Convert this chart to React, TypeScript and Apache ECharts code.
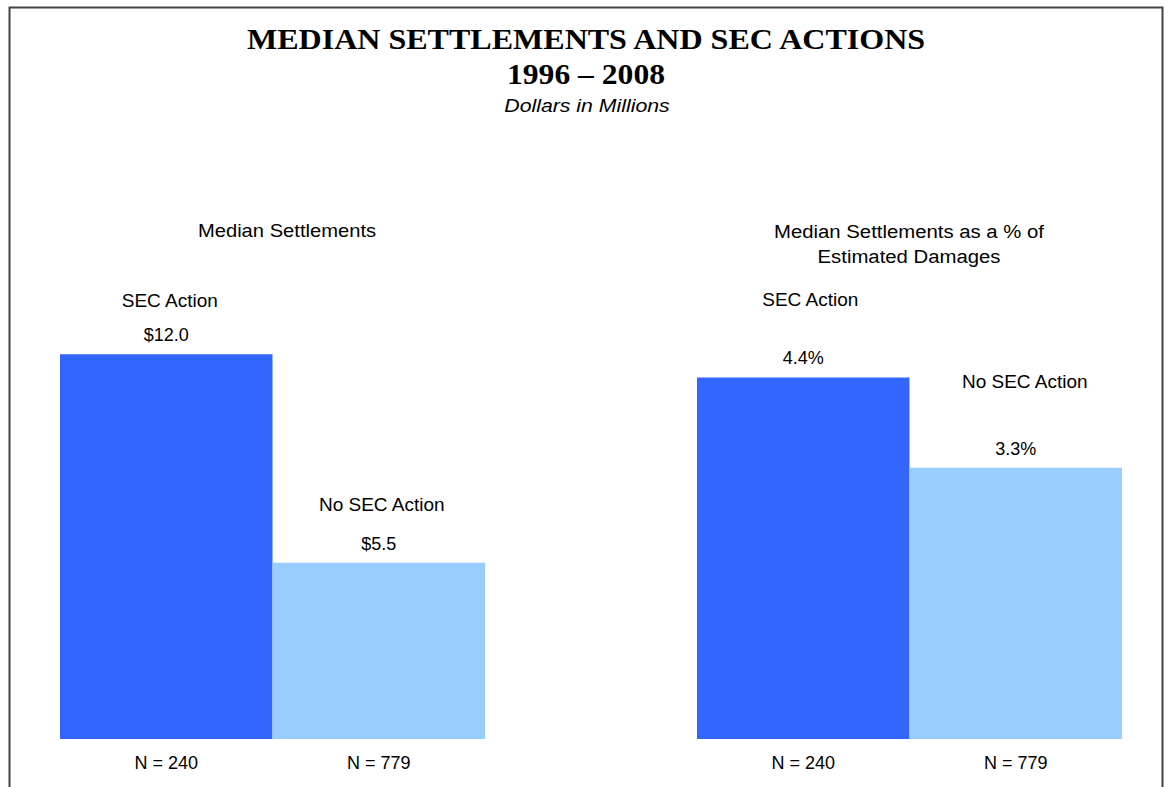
import React, { useEffect, useRef } from "react";
import * as echarts from "echarts";

const categories = ["N = 240", "N = 779"];
const groupNames = ["SEC Action", "No SEC Action"];
const settlementValues = [12.0, 5.5];
const pctDamagesValues = [4.4, 3.3];
const chartTitle = "MEDIAN SETTLEMENTS AND SEC ACTIONS";
const chartYears = "1996 \u2013 2008";
const chartUnits = "Dollars in Millions";
const leftSubtitle = "Median Settlements";
const rightSubtitle = "Median Settlements as a % of\nEstimated Damages";

const barColors = ["#3366FF", "#99CCFF"];
const leftNameLineHeights = [50, 58];
const rightNameLineHeights = [98, 114];
const leftNameShift = [7, 6];
const rightNameShift = [14, 18];
const SANS = "'Liberation Sans', Arial, sans-serif";
const SERIF = "'Liberation Serif', 'Times New Roman', serif";

function buildData(
  values: number[],
  fmt: (v: number) => string,
  nameLH: number[],
  nameShift: number[]
) {
  return values.map((v, i) => ({
    value: v,
    itemStyle: { color: barColors[i] },
    label: {
      show: true,
      position: "top",
      distance: 9,
      formatter: `{n|${groupNames[i]}}\n{v|${fmt(v)}}`,
      rich: {
        n: {
          lineHeight: nameLH[i],
          fontSize: 19,
          fontFamily: SANS,
          color: "#000",
          padding: [0, 0, 0, nameShift[i]],
        },
        v: { lineHeight: 20, fontSize: 18, fontFamily: SANS, color: "#000" },
      },
    },
  }));
}

function centeredText(text: string, x: number, y: number, sx: number, style: any) {
  return {
    type: "text",
    x,
    y,
    scaleX: sx,
    silent: true,
    style: { text, fill: "#000", align: "center", verticalAlign: "middle", ...style },
  };
}

export default function App() {
  const ref = useRef<HTMLDivElement>(null);
  useEffect(() => {
    if (!ref.current) return;
    const chart = echarts.init(ref.current, undefined, { renderer: "svg" });
    const xAxisBase = {
      type: "category",
      data: categories,
      axisLine: { show: false },
      axisTick: { show: false },
      axisLabel: { margin: 15, fontSize: 18, fontFamily: SANS, color: "#000" },
    };
    const yAxisBase = {
      type: "value",
      min: 0,
      show: false,
      splitLine: { show: false },
    };
    chart.setOption({
      animation: false,
      backgroundColor: "#fff",
      graphic: [
        {
          type: "rect",
          shape: { x: 9.5, y: 7.5, width: 1153, height: 800 },
          style: { fill: "none", stroke: "#444", lineWidth: 2 },
          silent: true,
        },
        centeredText(chartTitle, 586, 40, 1.105, {
          fontFamily: SERIF,
          fontWeight: "bold",
          fontSize: 29,
        }),
        centeredText(chartYears, 586, 74, 1.09, {
          fontFamily: SERIF,
          fontWeight: "bold",
          fontSize: 29,
        }),
        centeredText(chartUnits, 587, 105, 1.12, {
          fontFamily: SANS,
          fontStyle: "italic",
          fontSize: 19,
        }),
        centeredText(leftSubtitle, 287, 231, 1.12, {
          fontFamily: SANS,
          fontSize: 18,
        }),
        centeredText(rightSubtitle, 909, 244, 1.13, {
          fontFamily: SANS,
          fontSize: 18,
          lineHeight: 25,
        }),
      ],
      grid: [
        { left: 60, width: 425, top: 258, bottom: 48 },
        { left: 697, width: 425, top: 246, bottom: 48 },
      ],
      xAxis: [
        { ...xAxisBase, gridIndex: 0 },
        { ...xAxisBase, gridIndex: 1 },
      ],
      yAxis: [
        { ...yAxisBase, gridIndex: 0, max: 15 },
        { ...yAxisBase, gridIndex: 1, max: 6 },
      ],
      series: [
        {
          type: "bar",
          xAxisIndex: 0,
          yAxisIndex: 0,
          barCategoryGap: 0,
          data: buildData(
            settlementValues,
            (v) => "$" + v.toFixed(1),
            leftNameLineHeights,
            leftNameShift
          ),
        },
        {
          type: "bar",
          xAxisIndex: 1,
          yAxisIndex: 1,
          barCategoryGap: 0,
          data: buildData(
            pctDamagesValues,
            (v) => v.toFixed(1) + "%",
            rightNameLineHeights,
            rightNameShift
          ),
        },
      ],
    });
    return () => chart.dispose();
  }, []);
  return (
    <div
      ref={ref}
      style={{ position: "fixed", left: 0, top: 0, width: 1171, height: 787 }}
    />
  );
}
